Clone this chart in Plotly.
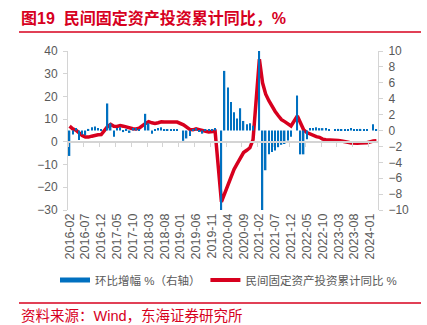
import pandas as pd
import plotly.graph_objects as go

# Monthly categories, 2016-02 .. 2024-03
months = [p.strftime("%Y-%m") for p in pd.period_range("2016-02", "2024-03", freq="M")]

# Private fixed-asset investment, cumulative YoY (%), January not published
cum_yoy = [
    6.9, 5.7, 5.2, 3.9, 2.8, 2.1, 2.1, 2.5, 2.9, 3.1, 3.2,
    None, 6.7, 7.7, 6.9, 6.8, 7.2, 6.9, 6.4, 6.0, 5.8, 5.7, 6.0,
    None, 8.1, 8.9, 8.4, 8.1, 8.4, 8.8, 8.7, 8.7, 8.7, 8.7, 8.7,
    None, 7.5, 6.4, 5.5, 5.3, 5.7, 5.4, 4.9, 4.7, 4.4, 4.5, 4.7,
    None, -26.4, -22.8, -18.8, -15.6, -12.1, -9.6, -7.3, -4.7, -3.7, -2.6, 1.0,
    None, 36.4, 26.0, 21.0, 18.1, 15.4, 13.4, 11.5, 9.8, 8.9, 8.0, 7.0,
    None, 11.4, 8.4, 5.3, 4.1, 3.5, 2.7, 2.3, 2.0, 1.2, 0.9, 0.9,
    None, 0.8, 0.6, 0.4, -0.1, -0.2, -0.5, -0.7, -0.6, -0.5, -0.5, -0.4,
    None, 0.4, 0.5,
]

# Month-on-month change (%), right axis
mom = [
    -3.2, -0.5, 0.3, -1.2, -0.5, -0.6, 0.2, 0.4, 0.5, 0.3, 0.2,
    None, 3.4, 0.9, -0.8, 0.3, 0.4, -0.2, 0.2, -0.3, 0.3, 0.3, 0.2,
    None, 2.1, 0.9, -0.4, 0.2, 0.3, 0.4, 0.1, 0.1, 0.1, 0.1, 0.1,
    None, -1.3, -1.0, -0.7, 0.2, 0.3, -0.2, -0.4, 0.1, 0.2, 0.1, 0.3,
    None, -10.0, 7.5, 5.4, 3.6, 2.3, 1.5, 2.8, 1.2, 0.8, 0.9, 0.6,
    None, 10.0, -10.0, -5.0, -3.0, -2.7, -2.5, -2.1, -1.8, -1.7, -1.25, -0.8,
    None, 4.4, -3.0, -3.0, -1.1, 0.3, 0.3, 0.4, 0.3, 0.3, 0.3, 0.2,
    None, 0.1, 0.2, 0.1, 0.1, 0.2, 0.3, 0.2, 0.1, 0.2, 0.1, 0.2,
    None, 0.8, 0.1,
]

tick_labels = months[::5]

RED = "#d7001e"
BLUE = "#0070c0"
GREY_TXT = "#595959"
AXIS = "#d4d4d4"
FONT = "Liberation Sans, Arial, Noto Sans CJK SC"
CJK = "Liberation Sans, Noto Sans CJK SC"

W, H = 427, 325
L, R, T, B = 68, 49, 51, 115
PW, PH = W - L - R, H - T - B


def px_x(x):
    return (x - L) / PW


def px_y(y):
    return (H - B - y) / PH


fig = go.Figure()

fig.add_trace(go.Bar(
    x=months, y=mom, xaxis="x2", yaxis="y2",
    marker=dict(color=BLUE, line=dict(width=0)),
    showlegend=False, name="环比增幅 %（右轴）",
))
fig.add_trace(go.Scatter(
    x=months, y=cum_yoy, mode="lines", connectgaps=True,
    line=dict(color=RED, width=3.5), showlegend=False,
    name="民间固定资产投资累计同比 %",
))
# legend entries drawn as flat swatches
fig.add_trace(go.Scatter(x=[None], y=[None], mode="lines",
                         line=dict(color=BLUE, width=5), name="环比增幅 %（右轴）"))
fig.add_trace(go.Scatter(x=[None], y=[None], mode="lines",
                         line=dict(color=RED, width=4), name="民间固定资产投资累计同比 %"))

zero_pos = 30 / 70  # left-axis zero in plot fraction

fig.update_layout(
    width=W, height=H,
    margin=dict(l=L, r=R, t=T, b=B, pad=0),
    paper_bgcolor="white", plot_bgcolor="white",
    bargap=0.55,
    font=dict(family=FONT, size=12, color=GREY_TXT),
    xaxis=dict(
        type="category", categoryorder="array", categoryarray=months,
        range=[-0.5, len(months) - 0.5],
        tickmode="array", tickvals=tick_labels, ticktext=tick_labels,
        tickangle=-90, ticks="", showline=False, showgrid=False, zeroline=False,
        tickfont=dict(size=12.5, color=GREY_TXT),
    ),
    xaxis2=dict(
        type="category", categoryorder="array", categoryarray=months,
        range=[-0.5, len(months) - 0.5],
        overlaying="x", anchor="free", position=zero_pos,
        showline=True, linecolor=AXIS, linewidth=2,
        ticks="outside", ticklen=4, tickcolor=AXIS, tickwidth=1,
        tickson="boundaries", tickmode="linear", tick0=0, dtick=5,
        showticklabels=False, showgrid=False, zeroline=False,
    ),
    yaxis=dict(
        range=[-30, 40], dtick=10, tick0=0,
        showline=True, linecolor=AXIS, linewidth=1,
        ticks="outside", ticklen=4, tickcolor=AXIS,
        showgrid=False, zeroline=False,
        tickfont=dict(size=12, color=GREY_TXT), ticklabelstandoff=3,
    ),
    yaxis2=dict(
        range=[-10, 10], dtick=2, tick0=0,
        overlaying="y", side="right", anchor="x2",
        showline=True, linecolor=AXIS, linewidth=1,
        ticks="outside", ticklen=4, tickcolor=AXIS,
        showgrid=False, zeroline=False,
        tickfont=dict(size=12, color=GREY_TXT), ticklabelstandoff=3,
    ),
    legend=dict(
        orientation="h", x=px_x(55), xanchor="left", y=px_y(280), yanchor="middle",
        font=dict(family=CJK, size=11.5, color=GREY_TXT),
        bgcolor="rgba(0,0,0,0)", itemwidth=30, tracegroupgap=0,
    ),
    showlegend=True,
    annotations=[
        dict(text="<b>图19  民间固定资产投资累计同比，%</b>", xref="paper", yref="paper",
             x=px_x(19), y=px_y(18.5), xanchor="left", yanchor="middle", showarrow=False,
             font=dict(family=CJK, size=16, color=RED)),
        dict(text="资料来源：Wind，东海证券研究所", xref="paper", yref="paper",
             x=px_x(19), y=px_y(316), xanchor="left", yanchor="middle", showarrow=False,
             font=dict(family=CJK, size=14.5, color=RED)),
    ],
    shapes=[
        dict(type="line", xref="paper", yref="paper", x0=px_x(19), x1=px_x(421),
             y0=px_y(32), y1=px_y(32), line=dict(color=RED, width=1.5)),
        dict(type="line", xref="paper", yref="paper", x0=px_x(19), x1=px_x(421),
             y0=px_y(303), y1=px_y(303), line=dict(color=RED, width=1.5)),
    ],
)

fig.write_html("out.html")
